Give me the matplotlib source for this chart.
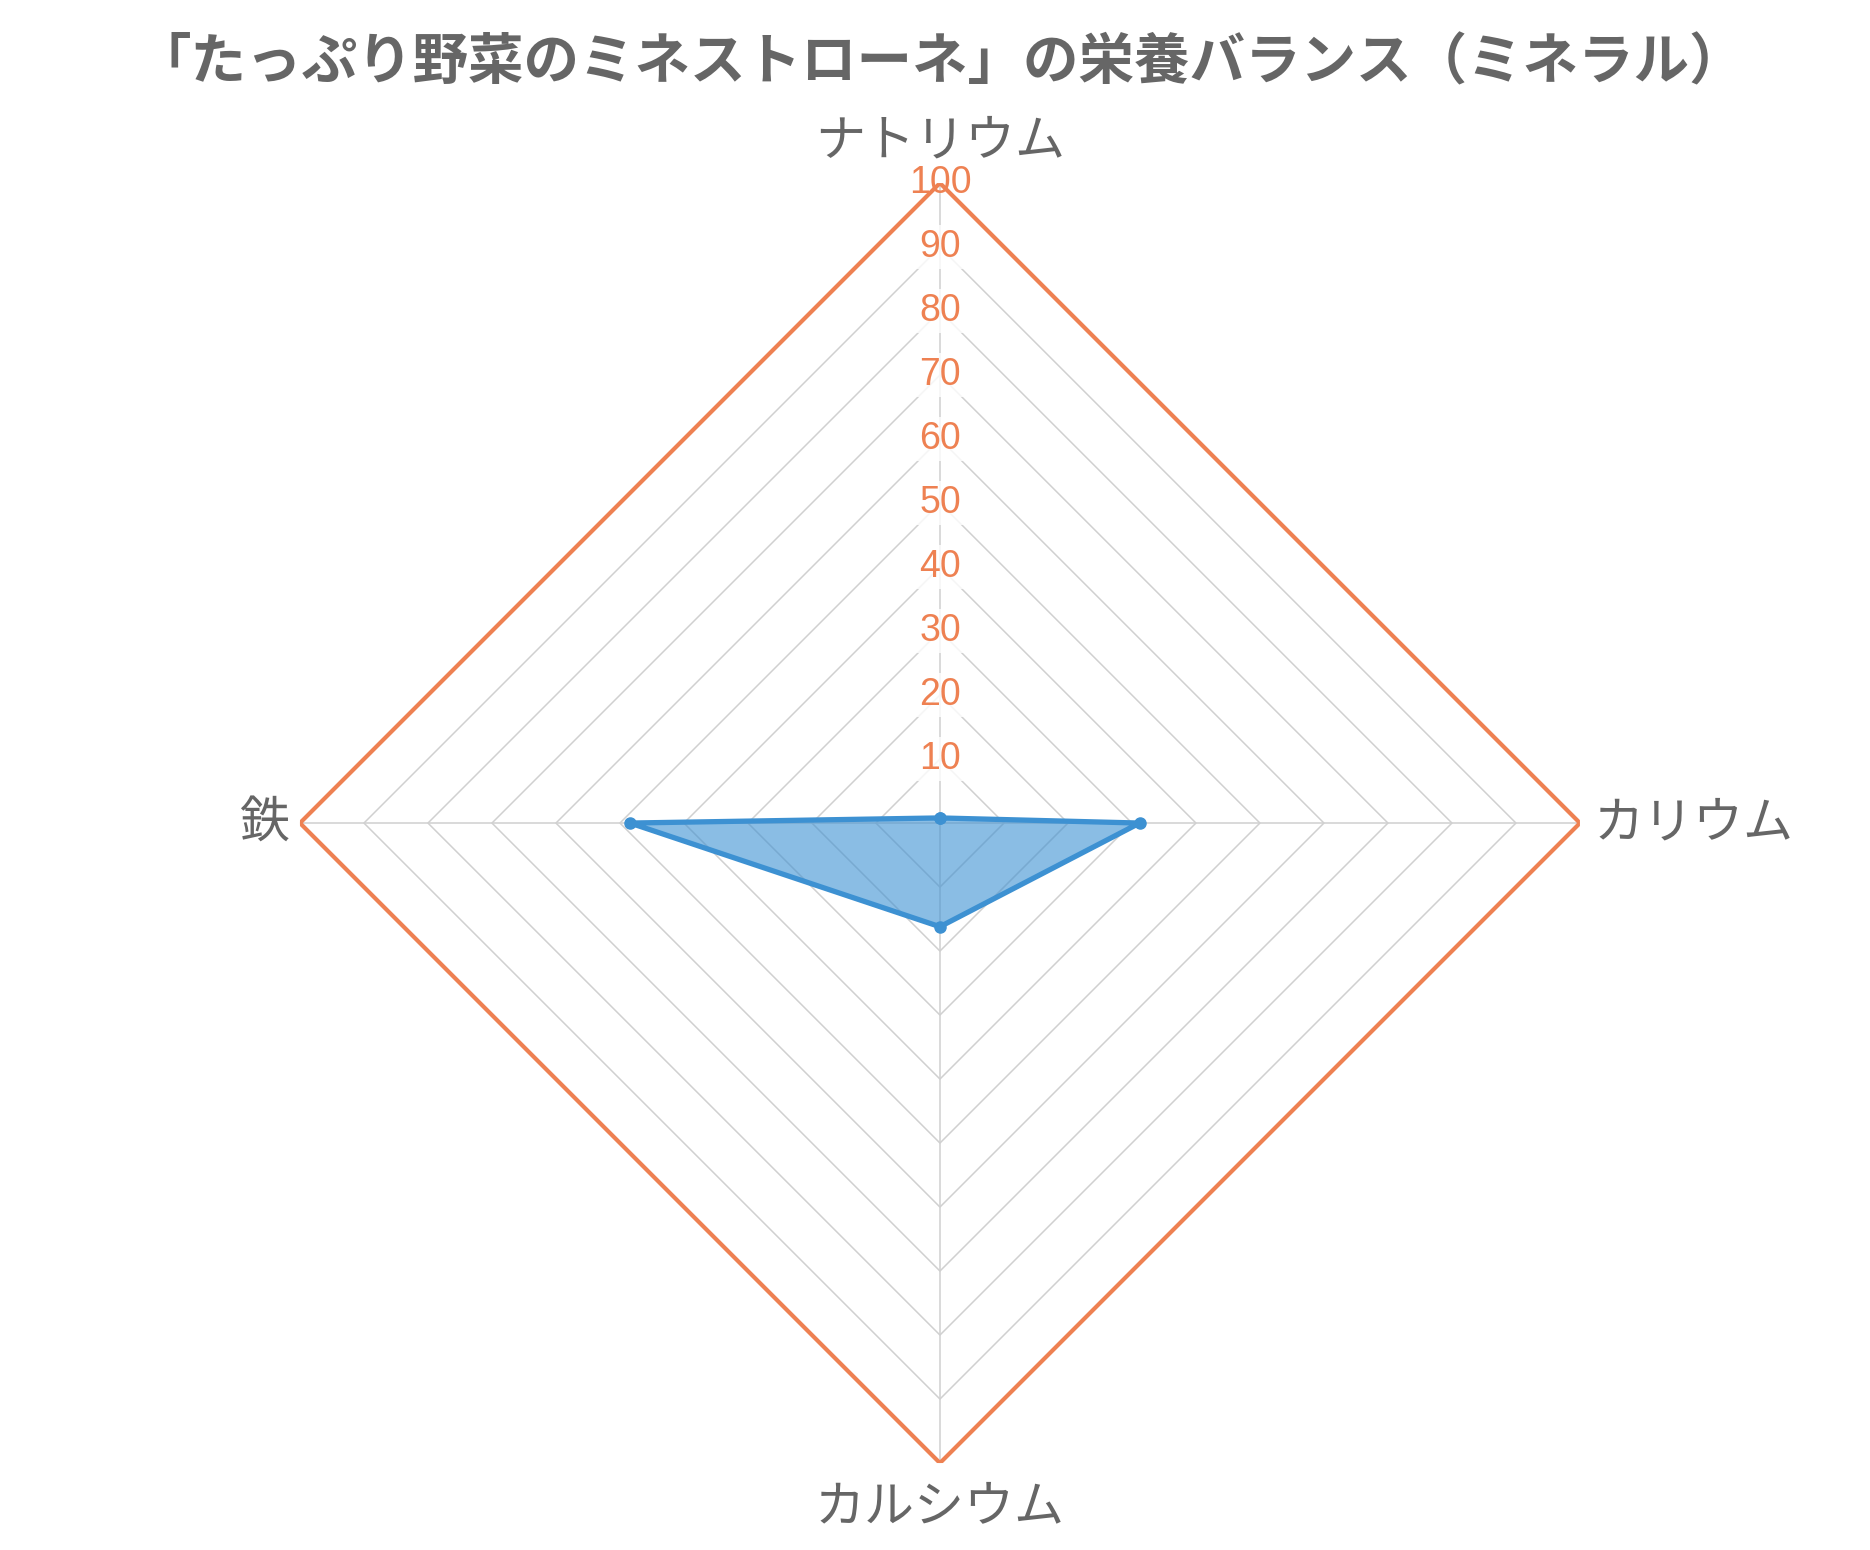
import numpy as np
import matplotlib
matplotlib.use('Agg')
import matplotlib.pyplot as plt

plt.rcParams['font.family'] = ['Noto Sans CJK JP', 'DejaVu Sans']

title      = '「たっぷり野菜のミネストローネ」の栄養バランス（ミネラル）'
categories = ['ナトリウム', 'カリウム', 'カルシウム', '鉄']
values     = [0.8, 31.2, 16.2, 48.4]
levels     = [10, 20, 30, 40, 50, 60, 70, 80, 90, 100]

ORANGE = '#ee8152'
BLUE   = '#3d91d2'
GREY   = '#666666'

# ------------------------------------------------------------------------------
#
def main():

    fig = plt.figure(figsize=(18.7, 15.5), dpi=100)
    ax  = fig.add_axes([0.1604, 0.0561, 0.6845, 0.8258], polar=True)
    ax.set_theta_offset(np.pi / 2)
    ax.set_theta_direction(-1)
    ax.set_ylim(0, 100)
    ax.spines['polar'].set_visible(False)
    ax.grid(False)
    ax.set_xticks([])
    ax.set_yticks([])

    n      = len(categories)
    theta  = np.linspace(0, 2 * np.pi, n, endpoint=False)
    tclose = np.append(theta, theta[0])

    # polygon rings
    for lvl in levels:
        if lvl == 100:
            ax.plot(tclose, [lvl] * (n + 1), color=ORANGE, lw=3.0, zorder=3)
        else:
            ax.plot(tclose, [lvl] * (n + 1), color='#d0d0d0', lw=1.1, zorder=1)

    # spokes
    for t in theta:
        ax.plot([t, t], [0, 100], color='#d0d0d0', lw=1.1, zorder=1)

    # data
    vclose = values + values[:1]
    ax.fill(tclose, vclose, color=BLUE, alpha=0.6, lw=0, zorder=4)
    ax.plot(tclose, vclose, color=BLUE, lw=3.8, marker='o', ms=8, zorder=5)

    # radial tick labels
    for lvl in levels:
        bbox = None
        if lvl < 100:
            bbox = dict(boxstyle='square,pad=0.1', fc='white', ec='none', alpha=0.8)
        ax.text(0, lvl, str(lvl), ha='center', va='center', fontsize=27,
                color=ORANGE, family=['Liberation Sans', 'DejaVu Sans'],
                bbox=bbox, zorder=6)

    # category labels
    offsets = [(0, 16, 'center', 'bottom'),
               (14, 0, 'left', 'center'),
               (0, -18, 'center', 'top'),
               (-10, 0, 'right', 'center')]
    for t, lab, (dx, dy, ha, va) in zip(theta, categories, offsets):
        ax.annotate(lab, xy=(t, 100), xytext=(dx, dy),
                    textcoords='offset pixels', ha=ha, va=va,
                    fontsize=36, color=GREY, annotation_clip=False)

    fig.text(0.503, 0.959, title, ha='center', va='center', fontsize=40,
             fontweight='bold', color=GREY)

    fig.savefig('out.png', dpi=100)


# ------------------------------------------------------------------------------
#
if __name__ == '__main__':

    main()
